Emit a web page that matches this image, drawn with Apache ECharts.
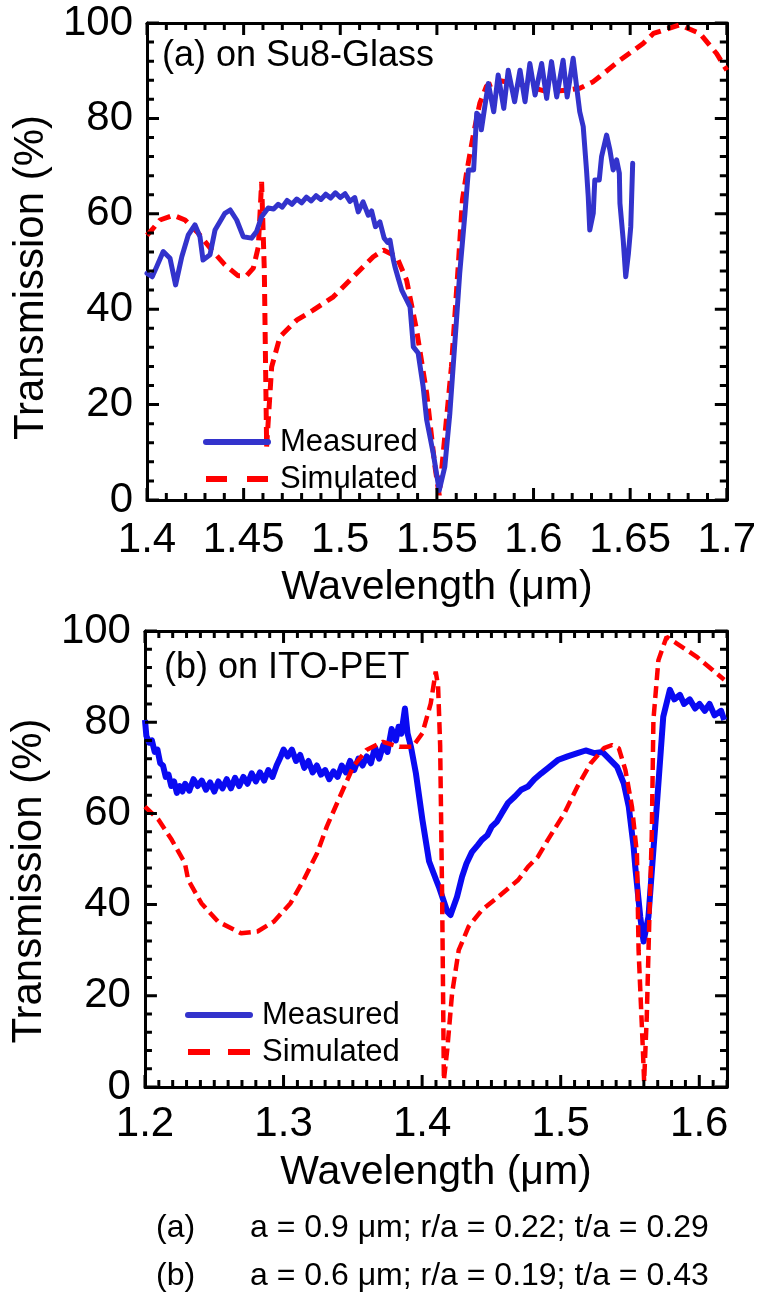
<!DOCTYPE html>
<html><head><meta charset="utf-8">
<script src="https://cdn.jsdelivr.net/npm/echarts@6/dist/echarts.min.js"></script>
<style>html,body{margin:0;padding:0;background:#fff}#c{width:759px;height:1302px}</style>
</head><body><div id="c"></div>
<script>
// ---------- Panel (a): on Su8-Glass ----------
const aMeasuredX = [1.4000,1.4027,1.4050,1.4084,1.4119,1.4148,1.4180,1.4214,1.4248,1.4274,1.4290,1.4326,1.4352,1.4403,1.4430,1.4464,1.4498,1.4541,1.4567,1.4593,1.4627,1.4655,1.4679,1.4700,1.4725,1.4750,1.4775,1.4800,1.4825,1.4850,1.4875,1.4900,1.4925,1.4950,1.4975,1.5000,1.5025,1.5050,1.5075,1.5093,1.5118,1.5145,1.5162,1.5182,1.5205,1.5227,1.5245,1.5257,1.5274,1.5283,1.5300,1.5318,1.5361,1.5378,1.5403,1.5429,1.5447,1.5481,1.5512,1.5541,1.5567,1.5584,1.5600,1.5618,1.5645,1.5663,1.5690,1.5706,1.5722,1.5730,1.5748,1.5766,1.5794,1.5817,1.5846,1.5869,1.5902,1.5930,1.5956,1.5981,1.6008,1.6042,1.6068,1.6093,1.6120,1.6153,1.6174,1.6205,1.6223,1.6239,1.6257,1.6274,1.6283,1.6291,1.6309,1.6317,1.6340,1.6352,1.6378,1.6395,1.6412,1.6430,1.6444,1.6447,1.6464,1.6477,1.6491,1.6503,1.6513];
const aMeasuredY = [47.5,46.8,48.9,52.1,50.7,45.1,51.0,55.6,57.7,55.2,50.3,51.4,56.6,60.1,60.8,58.7,55.2,54.9,56.3,59.4,61.2,61.0,62.0,61.4,62.8,62.0,63.1,62.3,63.5,62.7,63.8,63.0,64.1,63.3,64.4,63.4,64.2,62.6,63.4,60.4,62.5,59.7,60.6,57.3,58.3,54.9,54.0,54.5,50.5,48.9,46.5,44.0,40.5,32.1,30.8,23.7,16.8,9.8,2.0,7.0,18.2,27.9,37.0,47.5,60.0,69.2,69.2,81.1,80.4,77.6,82.5,87.3,81.4,89.1,82.1,90.1,83.5,90.1,83.5,91.5,84.9,91.5,84.2,91.9,84.5,92.2,84.5,92.6,86.6,81.4,78.3,69.2,63.6,56.6,60.1,67.1,67.1,72.0,76.5,73.4,69.2,71.3,68.5,62.2,54.5,46.8,51.7,57.3,70.6];
const aSimulatedX = [1.4000,1.4027,1.4067,1.4136,1.4197,1.4266,1.4335,1.4403,1.4472,1.4515,1.4550,1.4576,1.4593,1.4607,1.4619,1.4645,1.4688,1.4774,1.4860,1.4964,1.5067,1.5171,1.5223,1.5292,1.5343,1.5395,1.5447,1.5490,1.5512,1.5575,1.5610,1.5632,1.5653,1.5690,1.5722,1.5757,1.5826,1.5912,1.5982,1.6068,1.6170,1.6239,1.6309,1.6343,1.6447,1.6567,1.6620,1.6757,1.6861,1.6947,1.7000];
const aSimulatedY = [55.5,56.7,58.7,59.7,58.7,55.9,52.4,49.3,47.0,47.0,48.6,53.1,66.7,48.2,11.2,27.9,34.2,37.7,39.8,42.6,46.8,51.0,52.4,51.0,46.1,35.6,22.4,7.0,1.0,27.9,48.9,62.9,68.5,76.9,83.2,86.8,87.9,87.3,86.6,85.6,85.9,86.3,87.7,88.8,92.2,95.7,97.8,99.6,97.8,93.6,90.1];

// ---------- Panel (b): on ITO-PET ----------
const bMeasuredX = [1.200,1.201,1.203,1.205,1.207,1.209,1.211,1.213,1.215,1.217,1.219,1.221,1.223,1.225,1.227,1.229,1.232,1.235,1.238,1.241,1.244,1.247,1.250,1.253,1.256,1.259,1.262,1.265,1.268,1.271,1.274,1.277,1.280,1.283,1.286,1.289,1.292,1.295,1.298,1.300,1.303,1.306,1.309,1.312,1.315,1.318,1.321,1.324,1.327,1.330,1.333,1.336,1.339,1.342,1.345,1.348,1.351,1.354,1.357,1.360,1.363,1.366,1.369,1.372,1.375,1.378,1.381,1.383,1.385,1.3876,1.3895,1.392,1.3955,1.4002,1.405,1.410,1.4121,1.4181,1.4205,1.4252,1.4288,1.432,1.4359,1.4400,1.4431,1.4470,1.4502,1.4540,1.4574,1.4620,1.4669,1.4715,1.4764,1.481,1.486,1.491,1.4979,1.505,1.5121,1.518,1.5241,1.530,1.5336,1.5407,1.5455,1.5491,1.5526,1.5538,1.5574,1.5598,1.5633,1.5669,1.5693,1.5740,1.5788,1.582,1.586,1.589,1.5931,1.597,1.6002,1.604,1.6074,1.611,1.6157,1.618];
const bMeasuredY = [80.5,77.0,75.5,76.0,73.5,74.0,71.0,70.5,68.0,68.5,66.0,67.0,64.5,66.0,64.8,66.5,65.0,67.5,66.0,67.2,65.2,66.8,64.8,67.0,65.5,67.5,65.5,67.8,66.0,68.0,66.5,68.8,67.0,69.0,67.2,69.5,68.0,70.5,72.5,74.0,72.5,74.0,71.5,72.8,70.0,71.5,69.0,70.5,68.5,69.5,67.5,69.2,68.0,70.5,69.0,71.5,69.5,72.0,70.5,72.5,71.0,74.5,72.0,75.0,73.5,78.5,76.0,79.0,77.5,83.0,77.5,74.5,68.8,58.6,49.5,45.5,43.9,38.5,37.7,41.7,46.1,49.0,51.5,53.0,54.2,55.2,57.1,58.2,60.0,62.3,63.7,65.2,65.9,67.5,68.8,70.0,71.7,72.5,73.2,73.8,73.2,73.5,72.4,70.2,66.6,61.5,52.7,48.3,37.3,31.9,37.3,52.0,61.5,81.2,87.1,85.0,86.0,84.0,85.0,83.0,84.0,82.5,84.0,81.5,82.5,80.5];
const bSimulatedX = [1.2000,1.2014,1.2098,1.2193,1.2288,1.2312,1.2407,1.2526,1.2693,1.2812,1.2931,1.3050,1.3145,1.3241,1.3312,1.3407,1.3502,1.3598,1.3717,1.3836,1.3931,1.4002,1.4062,1.4098,1.4115,1.4130,1.4145,1.4157,1.4181,1.4216,1.4264,1.4336,1.4431,1.4550,1.4693,1.4764,1.4836,1.4907,1.5026,1.5121,1.5217,1.5312,1.5371,1.5419,1.5467,1.5514,1.5550,1.5562,1.5593,1.5602,1.5621,1.5640,1.5657,1.5669,1.5705,1.5764,1.5836,1.5979,1.6098,1.6180];
const bSimulatedY = [61.5,61.1,58.6,54.2,49.1,45.4,40.3,36.3,33.7,34.1,36.3,40.3,45.4,51.2,57.1,63.7,70.2,73.9,75.7,74.6,74.6,77.6,84.1,91.1,88.0,75.0,40.0,1.5,8.1,20.5,30.0,35.2,38.8,41.7,45.4,48.3,50.5,54.2,60.0,65.9,71.0,74.3,75.0,74.3,69.5,61.5,51.2,30.0,8.1,1.2,15.4,37.3,55.0,80.5,93.6,98.7,97.3,94.4,91.4,89.3];

// ---------- Axis ranges and tick steps ----------
const aXRange = [1.4, 1.7], aXMajorStep = 0.05, aXMinorStep = 0.01;
const bXRange = [1.2, 1.62], bXMajorStep = 0.1, bXMinorStep = 0.01;
const yRange = [0, 100], yMajorStep = 20, yMinorStep = 4;

// ---------- Layout ----------
const GRIDS = [
  {left: 147, top: 23, width: 580, height: 477},
  {left: 143, top: 631, width: 584, height: 456}
];
const FONT = '"Liberation Sans", Arial, Helvetica, sans-serif';
const BLK = '#000';
const MAJOR_PX = 12, MINOR_PX = 7;

const zip = (xs, ys) => xs.map((x, i) => [x, ys[i]]);
function steps(lo, hi, step) {
  const out = [], n = Math.round((hi - lo) / step + 1e-9);
  for (let i = 0; i <= n; i++) out.push(+(lo + i * step).toFixed(4));
  return out;
}
function isMajor(v, lo, step) { const k = (v - lo) / step; return Math.abs(k - Math.round(k)) < 1e-6; }

// Inward tick marks on all four edges of a panel, in data units so the library's
// scales place them; null points break the polyline between ticks.
function tickSegments(g, xRange, xMajor, xMinor) {
  const grid = GRIDS[g];
  const xPerPx = (xRange[1] - xRange[0]) / grid.width;
  const yPerPx = (yRange[1] - yRange[0]) / grid.height;
  const pts = [];
  steps(xRange[0], xRange[1], xMinor).forEach(v => {
    const len = (isMajor(v, xRange[0], xMajor) ? MAJOR_PX : MINOR_PX) * yPerPx;
    pts.push([v, yRange[0]], [v, yRange[0] + len], [v, null]);
    pts.push([v, yRange[1]], [v, yRange[1] - len], [v, null]);
  });
  steps(yRange[0], yRange[1], yMinorStep).forEach(v => {
    const len = (isMajor(v, yRange[0], yMajorStep) ? MAJOR_PX : MINOR_PX) * xPerPx;
    pts.push([xRange[0], v], [xRange[0] + len, v], [xRange[0], null]);
    pts.push([xRange[1], v], [xRange[1] - len, v], [xRange[1], null]);
  });
  return pts;
}

const chart = echarts.init(document.getElementById('c'), null, {renderer: 'canvas'});

function xAxisCfg(grid, pos, range, interval, opts) {
  opts = opts || {};
  return {
    type: 'value', gridIndex: grid, position: pos, min: range[0], max: range[1], interval: interval,
    axisLine: {show: true, onZero: false, lineStyle: {color: BLK, width: 3}},
    axisTick: {show: false},
    minorTick: {show: false},
    axisLabel: opts.labels ? {show: true, fontSize: 42, fontFamily: FONT, color: BLK, margin: opts.margin || 16, showMaxLabel: opts.showMax !== false} : {show: false},
    splitLine: {show: false},
    name: opts.name || '', nameLocation: 'middle', nameGap: opts.nameGap || 60,
    nameTextStyle: {fontSize: 41, fontFamily: FONT, color: BLK}
  };
}
function yAxisCfg(grid, pos, opts) {
  opts = opts || {};
  return {
    type: 'value', gridIndex: grid, position: pos, min: yRange[0], max: yRange[1], interval: yMajorStep,
    axisLine: {show: true, onZero: false, lineStyle: {color: BLK, width: 3}},
    axisTick: {show: false},
    minorTick: {show: false},
    axisLabel: opts.labels ? {show: true, fontSize: 42, fontFamily: FONT, color: BLK, margin: 14} : {show: false},
    splitLine: {show: false},
    name: opts.labels ? 'Transmission (%)' : '', nameLocation: 'middle', nameGap: opts.nameGap || 88, nameRotate: 90,
    nameTextStyle: {fontSize: 42, fontFamily: FONT, color: BLK, padding: opts.namePad || [0, 0, 0, 0]}
  };
}
function tickSeries(g, xRange, xMajor, xMinor) {
  return {
    name: 'ticks' + g, type: 'line', xAxisIndex: g * 2, yAxisIndex: g * 2, symbol: 'none',
    silent: true, connectNulls: false, clip: false, z: 10, zlevel: 0,
    data: tickSegments(g, xRange, xMajor, xMinor),
    lineStyle: {color: BLK, width: 3, cap: 'butt'}, itemStyle: {color: BLK}
  };
}

const legendCommon = {
  orient: 'vertical', itemWidth: 62, itemHeight: 2, itemGap: 5, padding: 0,
  textStyle: {fontSize: 31, fontFamily: FONT, color: BLK, lineHeight: 32, padding: [0, 0, 0, 7]},
  selectedMode: false
};

const option = {
  animation: false,
  backgroundColor: '#fff',
  grid: GRIDS.map(g => Object.assign({containLabel: false}, g)),
  xAxis: [
    xAxisCfg(0, 'bottom', aXRange, aXMajorStep, {labels: true, margin: 19, name: 'Wavelength (μm)', nameGap: 67}),
    xAxisCfg(0, 'top', aXRange, aXMajorStep, {}),
    xAxisCfg(1, 'bottom', bXRange, bXMajorStep, {labels: true, margin: 16, showMax: false, name: 'Wavelength (μm)', nameGap: 65}),
    xAxisCfg(1, 'top', bXRange, bXMajorStep, {})
  ],
  yAxis: [
    yAxisCfg(0, 'left', {labels: true, nameGap: 88, namePad: [0, 32, 0, 0]}),
    yAxisCfg(0, 'right', {}),
    yAxisCfg(1, 'left', {labels: true, nameGap: 84, namePad: [0, 44, 0, 0]}),
    yAxisCfg(1, 'right', {})
  ],
  legend: [
    Object.assign({}, legendCommon, {left: 203, top: 426,
      data: [
        {name: 'Measured', itemStyle: {opacity: 0}, lineStyle: {width: 6, type: 'solid', color: '#3333cc'}},
        {name: 'Simulated', itemStyle: {opacity: 0}, lineStyle: {width: 6, type: [21, 20], color: '#ff0000'}}
      ]}),
    Object.assign({}, legendCommon, {left: 185, top: 999,
      data: [
        {name: 'Measured', itemStyle: {opacity: 0}, lineStyle: {width: 6, type: 'solid', color: '#3333cc'}},
        {name: 'Simulated', itemStyle: {opacity: 0}, lineStyle: {width: 6, type: [22, 18], color: '#ff0000'}}
      ]})
  ],
  series: [
    {name: 'Simulated', type: 'line', xAxisIndex: 0, yAxisIndex: 0, symbol: 'none', smooth: false,
     data: zip(aSimulatedX, aSimulatedY), z: 2,
     lineStyle: {color: '#ff0000', width: 5, type: [12, 7]}, itemStyle: {color: '#ff0000'}},
    {name: 'Measured', type: 'line', xAxisIndex: 0, yAxisIndex: 0, symbol: 'none', smooth: false,
     data: zip(aMeasuredX, aMeasuredY), z: 3,
     lineStyle: {color: '#3333cc', width: 5, join: 'round', cap: 'round'}, itemStyle: {color: '#3333cc'}},
    {name: 'Measured', type: 'line', xAxisIndex: 2, yAxisIndex: 2, symbol: 'none', smooth: false,
     data: zip(bMeasuredX, bMeasuredY), z: 2,
     lineStyle: {color: '#0a0af2', width: 6, join: 'round'}, itemStyle: {color: '#0a0af2'}},
    {name: 'Simulated', type: 'line', xAxisIndex: 2, yAxisIndex: 2, symbol: 'none', smooth: false,
     data: zip(bSimulatedX, bSimulatedY), z: 3,
     lineStyle: {color: '#ff0000', width: 4.5, type: [12, 6]}, itemStyle: {color: '#ff0000'}},
    tickSeries(0, aXRange, aXMajorStep, aXMinorStep),
    tickSeries(1, bXRange, bXMajorStep, bXMinorStep)
  ],
  graphic: [
    {type: 'text', x: 162, y: 56, z: 10, style: {text: '(a) on Su8-Glass', font: '36px ' + FONT, fill: BLK, verticalAlign: 'middle'}},
    {type: 'text', x: 164, y: 668, z: 10, style: {text: '(b) on ITO-PET', font: '36px ' + FONT, fill: BLK, verticalAlign: 'middle'}},
    {type: 'text', x: 156, y: 1228, style: {text: '(a)', font: '32px ' + FONT, fill: BLK, verticalAlign: 'middle'}},
    {type: 'text', x: 250, y: 1228, style: {text: 'a = 0.9 μm; r/a = 0.22; t/a = 0.29', font: '32px ' + FONT, fill: BLK, verticalAlign: 'middle'}},
    {type: 'text', x: 156, y: 1276, style: {text: '(b)', font: '32px ' + FONT, fill: BLK, verticalAlign: 'middle'}},
    {type: 'text', x: 250, y: 1276, style: {text: 'a = 0.6 μm; r/a = 0.19; t/a = 0.43', font: '32px ' + FONT, fill: BLK, verticalAlign: 'middle'}}
  ]
};
chart.setOption(option);
</script></body></html>
